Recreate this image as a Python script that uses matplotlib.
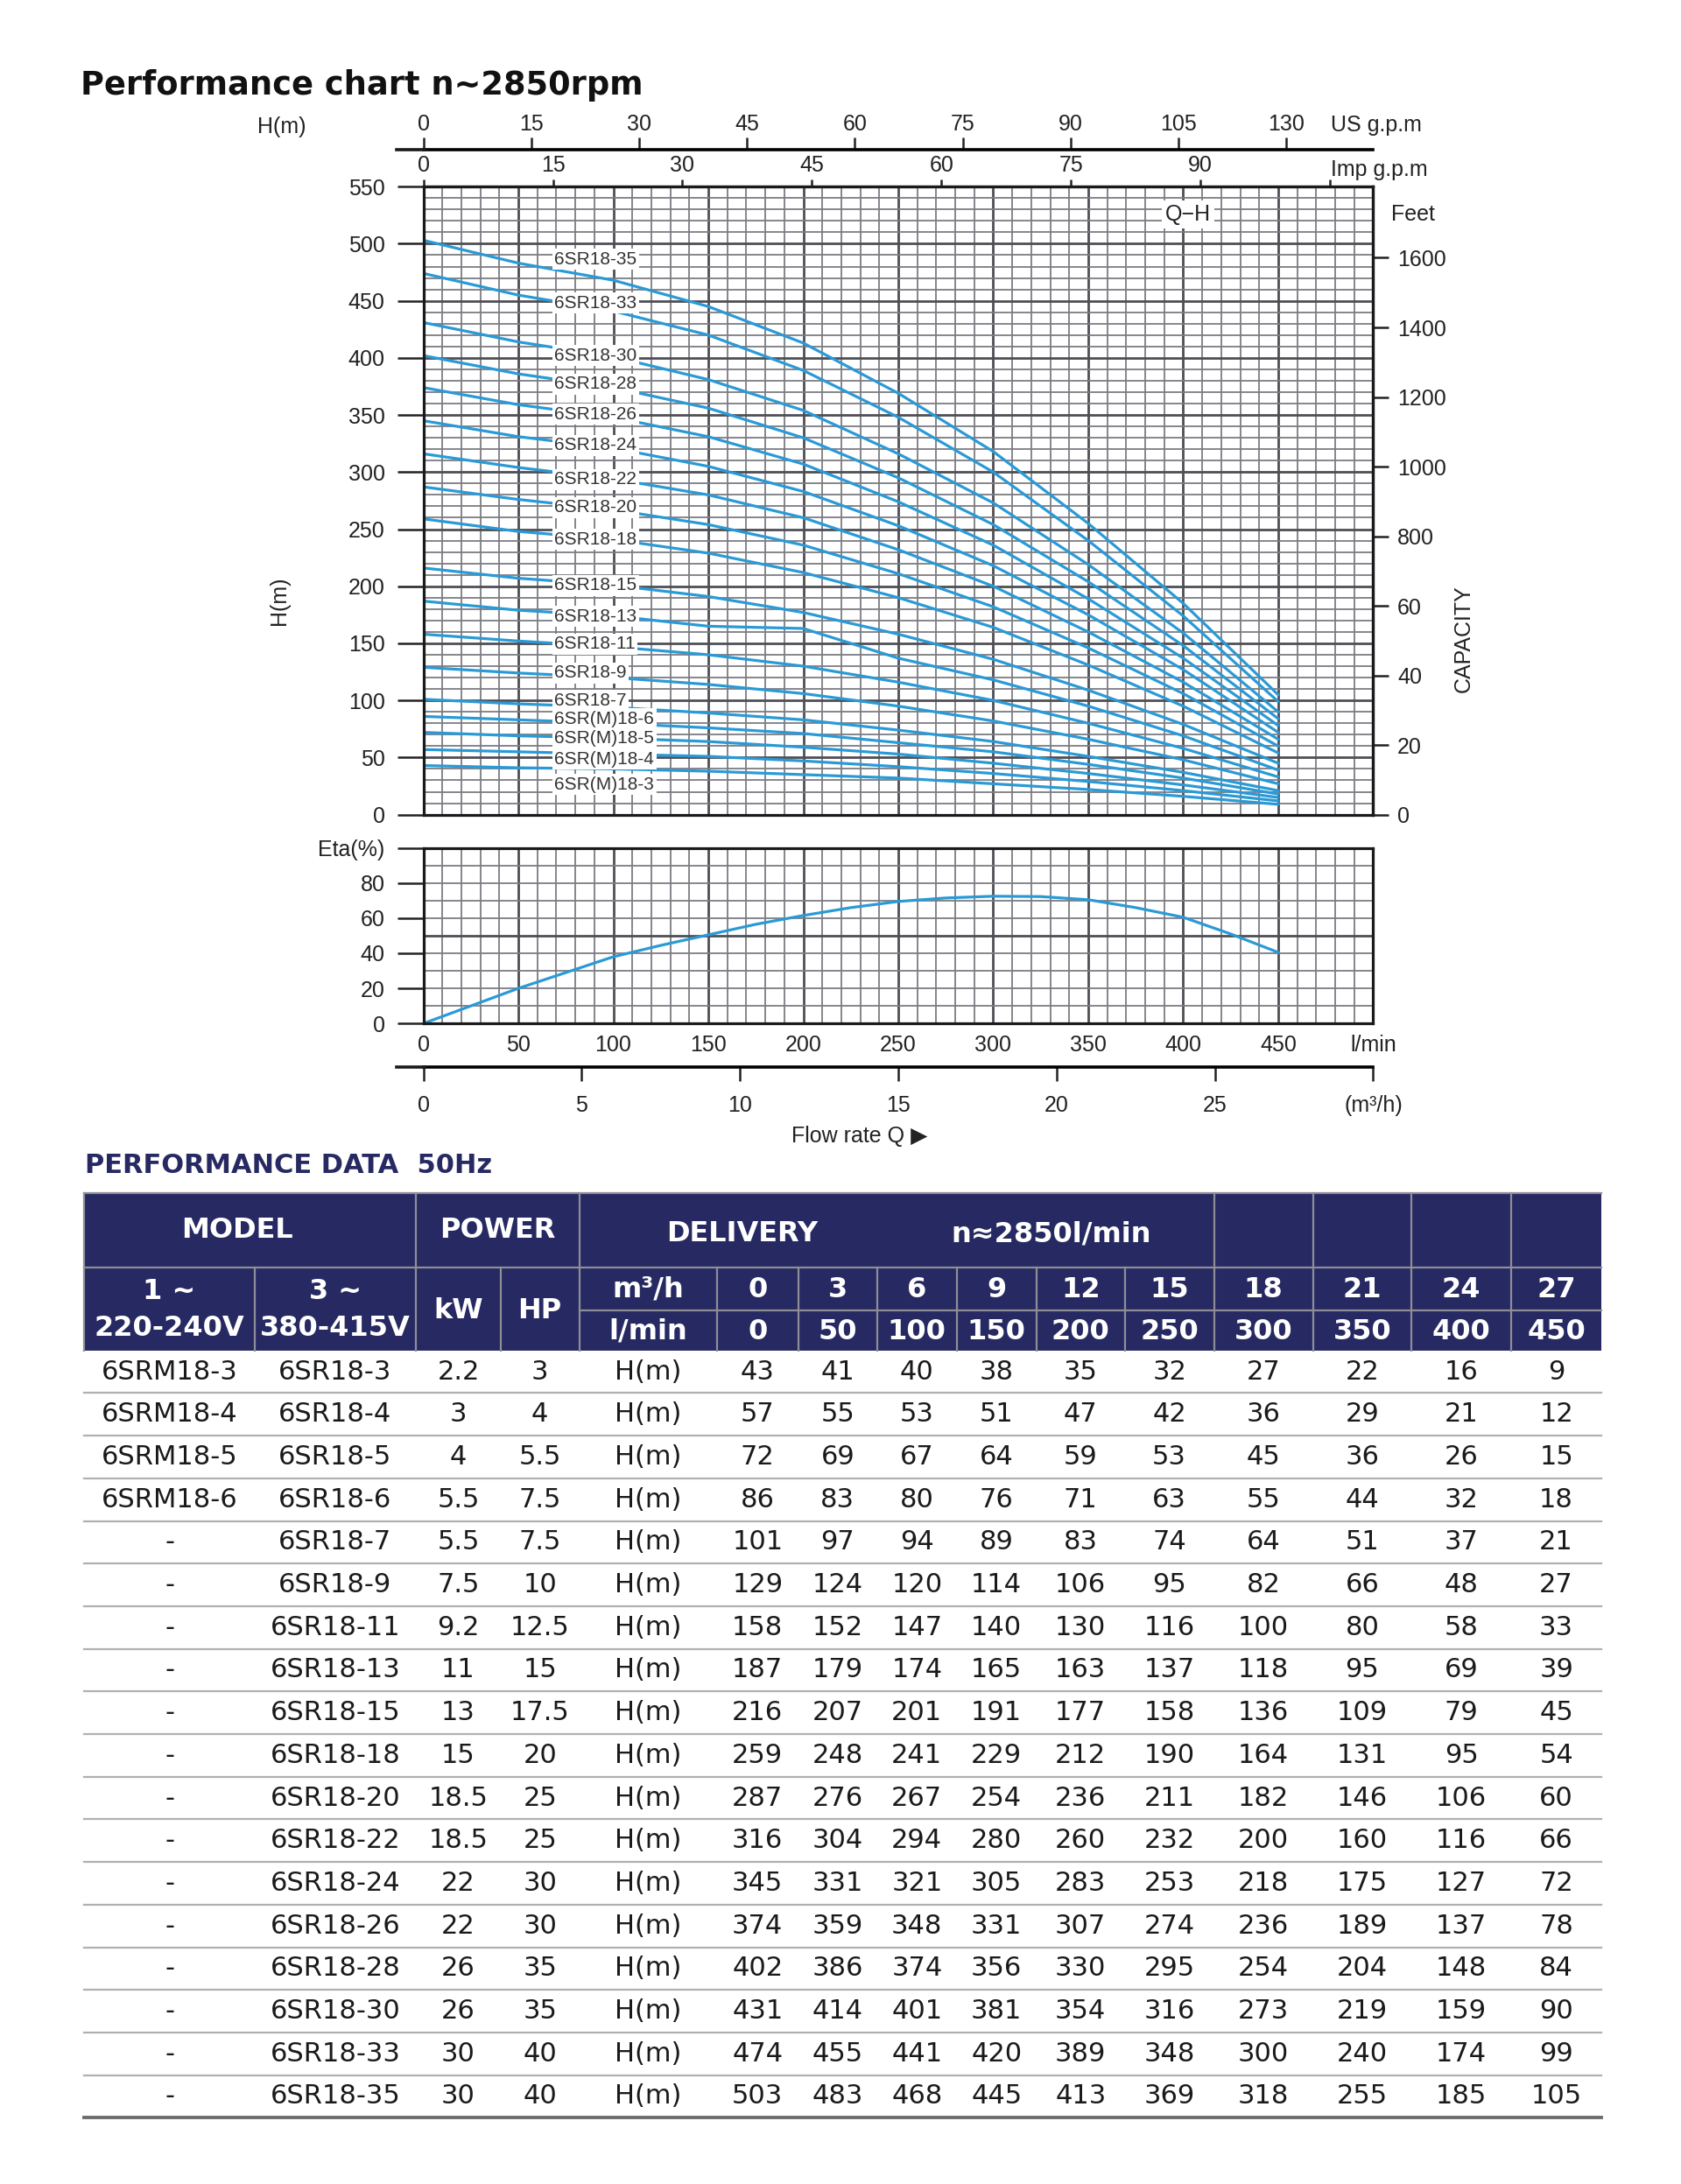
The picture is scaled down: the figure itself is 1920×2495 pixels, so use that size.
import matplotlib
matplotlib.use('Agg')
import matplotlib.pyplot as plt
from matplotlib.lines import Line2D
from matplotlib.patches import Rectangle

plt.rcParams['font.family'] = ['Liberation Sans', 'DejaVu Sans']

# ---- values ----
FLOW_LPM = [0, 50, 100, 150, 200, 250, 300, 350, 400, 450]
FLOW_M3H = [0, 3, 6, 9, 12, 15, 18, 21, 24, 27]

MODEL_1PH = ['6SRM18-3', '6SRM18-4', '6SRM18-5', '6SRM18-6'] + ['-'] * 14
MODEL_3PH = ['6SR18-3', '6SR18-4', '6SR18-5', '6SR18-6', '6SR18-7', '6SR18-9',
             '6SR18-11', '6SR18-13', '6SR18-15', '6SR18-18', '6SR18-20', '6SR18-22',
             '6SR18-24', '6SR18-26', '6SR18-28', '6SR18-30', '6SR18-33', '6SR18-35']
POWER_KW = ['2.2', '3', '4', '5.5', '5.5', '7.5', '9.2', '11', '13', '15', '18.5', '18.5',
            '22', '22', '26', '26', '30', '30']
POWER_HP = ['3', '4', '5.5', '7.5', '7.5', '10', '12.5', '15', '17.5', '20', '25', '25',
            '30', '30', '35', '35', '40', '40']
HEAD_M = [
    [43, 41, 40, 38, 35, 32, 27, 22, 16, 9],
    [57, 55, 53, 51, 47, 42, 36, 29, 21, 12],
    [72, 69, 67, 64, 59, 53, 45, 36, 26, 15],
    [86, 83, 80, 76, 71, 63, 55, 44, 32, 18],
    [101, 97, 94, 89, 83, 74, 64, 51, 37, 21],
    [129, 124, 120, 114, 106, 95, 82, 66, 48, 27],
    [158, 152, 147, 140, 130, 116, 100, 80, 58, 33],
    [187, 179, 174, 165, 163, 137, 118, 95, 69, 39],
    [216, 207, 201, 191, 177, 158, 136, 109, 79, 45],
    [259, 248, 241, 229, 212, 190, 164, 131, 95, 54],
    [287, 276, 267, 254, 236, 211, 182, 146, 106, 60],
    [316, 304, 294, 280, 260, 232, 200, 160, 116, 66],
    [345, 331, 321, 305, 283, 253, 218, 175, 127, 72],
    [374, 359, 348, 331, 307, 274, 236, 189, 137, 78],
    [402, 386, 374, 356, 330, 295, 254, 204, 148, 84],
    [431, 414, 401, 381, 354, 316, 273, 219, 159, 90],
    [474, 455, 441, 420, 389, 348, 300, 240, 174, 99],
    [503, 483, 468, 445, 413, 369, 318, 255, 185, 105],
]
CURVE_NAMES = ['6SR(M)18-3', '6SR(M)18-4', '6SR(M)18-5', '6SR(M)18-6', '6SR18-7', '6SR18-9',
               '6SR18-11', '6SR18-13', '6SR18-15', '6SR18-18', '6SR18-20', '6SR18-22',
               '6SR18-24', '6SR18-26', '6SR18-28', '6SR18-30', '6SR18-33', '6SR18-35']
# where the tags sit (m)
LABEL_H = [26.5, 48.7, 66.5, 83.7, 99.8, 123.9, 149.4, 173.7, 200.7, 241, 269, 293.6,
           323.6, 350.5, 377, 402, 448, 486.4]

ETA_LPM = [0, 25, 50, 75, 100, 125, 150, 175, 200, 225, 250, 275, 300, 325, 350, 375, 400, 425, 450]
ETA_PCT = [0, 10, 20, 29, 38, 44.5, 50.5, 56.5, 61.5, 66, 69.5, 71.5, 72.5, 72.3, 70.5, 66, 60.5, 51, 40.5]

US_GPM = [0, 15, 30, 45, 60, 75, 90, 105, 120]
US_LBL = ['0', '15', '30', '45', '60', '75', '90', '105', '130']
IMP_GPM = [0, 15, 30, 45, 60, 75, 90, 105]
IMP_LBL = ['0', '15', '30', '45', '60', '75', '90', '']
FEET = [0, 200, 400, 600, 800, 1000, 1200, 1400, 1600]
FEET_LBL = ['0', '20', '40', '60', '800', '1000', '1200', '1400', '1600']
M3H_TICKS = [0, 5, 10, 15, 20, 25, 30]
M3H_LBL = ['0', '5', '10', '15', '20', '25', '(m³/h)']

LPM_PER_USGAL = 3.78541
LPM_PER_IMPGAL = 4.54609
M_PER_FT = 0.3048

BLUE = '#2a9ad6'
INK = '#222222'
GRID_MIN = '#7c7c84'
GRID_MAJ = '#4e4e55'
NAVY = '#272a62'

W, H = 1920, 2495
fig = plt.figure(figsize=(W / 100, H / 100), dpi=100)


def rect(l, t, r, b):
    return [l / W, 1 - b / H, (r - l) / W, (b - t) / H]


def ftext(x, y, s, **kw):
    return fig.text(x / W, 1 - y / H, s, **kw)


def fline(x0, x1, y, **kw):
    fig.add_artist(Line2D([x0 / W, x1 / W], [1 - y / H, 1 - y / H], **kw))


def paper(a, xmax, ymax):
    for v in range(0, xmax + 1, 10):
        big = v % 50 == 0
        a.axvline(v, color=GRID_MAJ if big else GRID_MIN, lw=2.0 if big else 1.3, zorder=1)
    for v in range(0, ymax + 1, 10):
        big = v % 50 == 0
        a.axhline(v, color=GRID_MAJ if big else GRID_MIN, lw=2.0 if big else 1.3, zorder=1)
    for s in a.spines.values():
        s.set_linewidth(2.3)
        s.set_color('#1a1a1a')
        s.set_zorder(5)


# ---------------- Q-H chart ----------------
ax = fig.add_axes(rect(483.6, 213.2, 1568.4, 930.6))
ax.set_xlim(0, 500)
ax.set_ylim(0, 550)
paper(ax, 500, 550)

for heads in HEAD_M:
    ax.plot(FLOW_LPM, heads, color=BLUE, lw=2.3, zorder=3, solid_capstyle='round')
for name, y in zip(CURVE_NAMES, LABEL_H):
    ax.text(69, y, name, ha='left', va='center', fontsize=15, color='#333333', zorder=4,
            bbox=dict(boxstyle='square,pad=0.12', fc='white', ec='none'))
ax.text(402.5, 525.5, 'Q\u2212H', ha='center', va='center', fontsize=18, color=INK, zorder=4,
        bbox=dict(boxstyle='square,pad=0.15', fc='white', ec='none'))

ax.set_yticks(range(0, 551, 50))
ax.tick_params(axis='y', direction='out', length=21.6, width=1.8, pad=10, labelsize=18,
               colors=INK, right=False)
ax.tick_params(axis='x', which='both', bottom=False, top=False, labelbottom=False)

feet = ax.secondary_yaxis('right', functions=(lambda m: m / M_PER_FT, lambda f: f * M_PER_FT))
feet.set_ticks(FEET, labels=FEET_LBL)
feet.tick_params(direction='out', length=13, width=1.8, pad=7, labelsize=18, colors=INK)
feet.spines['right'].set_linewidth(2.3)

imp = ax.secondary_xaxis('top', functions=(lambda q: q / LPM_PER_IMPGAL, lambda g: g * LPM_PER_IMPGAL))
imp.set_ticks(IMP_GPM, labels=IMP_LBL)
imp.tick_params(direction='out', length=5.8, width=1.8, pad=3, labelsize=18, colors=INK)
imp.spines['top'].set_linewidth(2.3)

us = ax.secondary_xaxis(1 + 42.2 / 717.4, functions=(lambda q: q / LPM_PER_USGAL, lambda g: g * LPM_PER_USGAL))
us.set_ticks(US_GPM, labels=US_LBL)
us.tick_params(direction='out', length=10, width=1.8, pad=2, labelsize=18, colors=INK)
us.spines['top'].set_linewidth(2.6)
fline(453, 485, 171, color='#1a1a1a', lw=2.6)

ftext(322, 145, 'H(m)', ha='center', va='center', fontsize=18, color=INK)
ftext(1520, 143, 'US g.p.m', ha='left', va='center', fontsize=18, color=INK)
ftext(1520, 194, 'Imp g.p.m', ha='left', va='center', fontsize=18, color=INK)
ftext(1589, 245, 'Feet', ha='left', va='center', fontsize=18, color=INK)
ftext(1672, 730, 'CAPACITY', ha='center', va='center', rotation=90, fontsize=18, color=INK)
ftext(319, 686, 'H(m)', ha='center', va='center', rotation=90, fontsize=18, color=INK)

# ---------------- efficiency chart ----------------
ea = fig.add_axes(rect(483.6, 968.7, 1568.4, 1169.2))
ea.set_xlim(0, 500)
ea.set_ylim(0, 100)
paper(ea, 500, 100)
ea.plot(ETA_LPM, ETA_PCT, color=BLUE, lw=2.3, zorder=3)
ea.set_yticks([0, 20, 40, 60, 80, 100], ['0', '20', '40', '60', '80', 'Eta(%)'])
ea.set_xticks(range(0, 501, 50), [str(v) for v in range(0, 451, 50)] + ['l/min'])
ea.tick_params(axis='x', length=0, pad=9, labelsize=18, colors=INK)
ea.tick_params(axis='y', direction='out', length=21.6, width=1.8, pad=10, labelsize=18, colors=INK)
ea.yaxis.get_major_ticks()[0].tick1line.set_color(BLUE)

m3 = ea.secondary_xaxis(-(1219.3 - 1169.2) / (1169.2 - 968.7),
                        functions=(lambda q: q * 0.06, lambda c: c / 0.06))
m3.set_ticks(M3H_TICKS, labels=M3H_LBL)
m3.tick_params(direction='out', length=11.5, width=1.8, pad=11, labelsize=18, colors=INK)
m3.spines['bottom'].set_linewidth(2.6)
fline(453, 485, 1219.3, color='#1a1a1a', lw=2.6)

ftext(904, 1298, 'Flow rate Q \u25b6', ha='left', va='center', fontsize=18, color=INK)

# ---------------- titles ----------------
ftext(92, 97, 'Performance chart n~2850rpm', ha='left', va='center', fontsize=26.5,
      fontweight='bold', family='DejaVu Sans', color='#111111')
ftext(97, 1332, 'PERFORMANCE DATA  50Hz', ha='left', va='center', fontsize=22,
      fontweight='bold', family='DejaVu Sans', color=NAVY)

# ---------------- table ----------------
tb = fig.add_axes([0, 0, 1, 1])
tb.set_xlim(0, W)
tb.set_ylim(H, 0)
tb.axis('off')

COLS = [96, 291, 475, 572, 661.5, 819, 911.5, 1002, 1092.6, 1183.8, 1284.6, 1386.6,
        1499.5, 1612.4, 1726, 1829.2]
Y0, Y1, Y2, Y3 = 1363.3, 1447.7, 1496.7, 1542.7
ROW_H = 48.7
EDGE = '#8e8e96'


def mid(i, j):
    return (COLS[i] + COLS[j]) / 2


def hcell(x, y, s, size=23):
    tb.text(x, y, s, ha='center', va='center', fontsize=size, fontweight='bold',
            family='DejaVu Sans', color='white')


tb.add_patch(Rectangle((COLS[0], Y0), COLS[-1] - COLS[0], Y3 - Y0, fc=NAVY, ec='none'))
for y in (Y0, Y1):
    tb.plot([COLS[0], COLS[-1]], [y, y], color=EDGE, lw=1.6)
tb.plot([COLS[4], COLS[-1]], [Y2, Y2], color=EDGE, lw=1.6)
tb.plot([COLS[0], COLS[0]], [Y0, Y3], color=EDGE, lw=1.6)
for i in (2, 4, 11, 12, 13, 14):
    tb.plot([COLS[i], COLS[i]], [Y0, Y1], color=EDGE, lw=1.6)
for x in COLS[1:-1]:
    tb.plot([x, x], [Y1, Y3], color=EDGE, lw=1.6)

hcell(271, 1405, 'MODEL')
hcell(mid(2, 4), 1405, 'POWER')
hcell(848, 1410, 'DELIVERY')
hcell(1201, 1410, 'n\u22482850l/min')
hcell(mid(0, 1), 1475, '1 ~')
hcell(mid(0, 1), 1517, '220-240V')
hcell(mid(1, 2), 1475, '3 ~')
hcell(mid(1, 2), 1517, '380-415V')
hcell(mid(2, 3), 1498, 'kW')
hcell(mid(3, 4), 1498, 'HP')
hcell(mid(4, 5), 1473, 'm³/h')
hcell(mid(4, 5), 1521, 'l/min')
for k, (c, q) in enumerate(zip(FLOW_M3H, FLOW_LPM)):
    hcell(mid(5 + k, 6 + k), 1473, str(c))
    hcell(mid(5 + k, 6 + k), 1521, str(q))

for r in range(len(MODEL_3PH)):
    y = Y3 + (r + 0.5) * ROW_H
    cells = [MODEL_1PH[r], MODEL_3PH[r], POWER_KW[r], POWER_HP[r], 'H(m)'] + [str(v) for v in HEAD_M[r]]
    for k, s in enumerate(cells):
        tb.text(mid(k, k + 1), y, s, ha='center', va='center', fontsize=22,
                family='DejaVu Sans', color='#1a1a1a')
    yl = Y3 + (r + 1) * ROW_H
    last = r == len(MODEL_3PH) - 1
    tb.plot([COLS[0], COLS[-1]], [yl, yl], color='#6e6e6e' if last else '#b0b0b0',
            lw=2.8 if last else 1.6)

fig.savefig('out.png', dpi=100, facecolor='white')
